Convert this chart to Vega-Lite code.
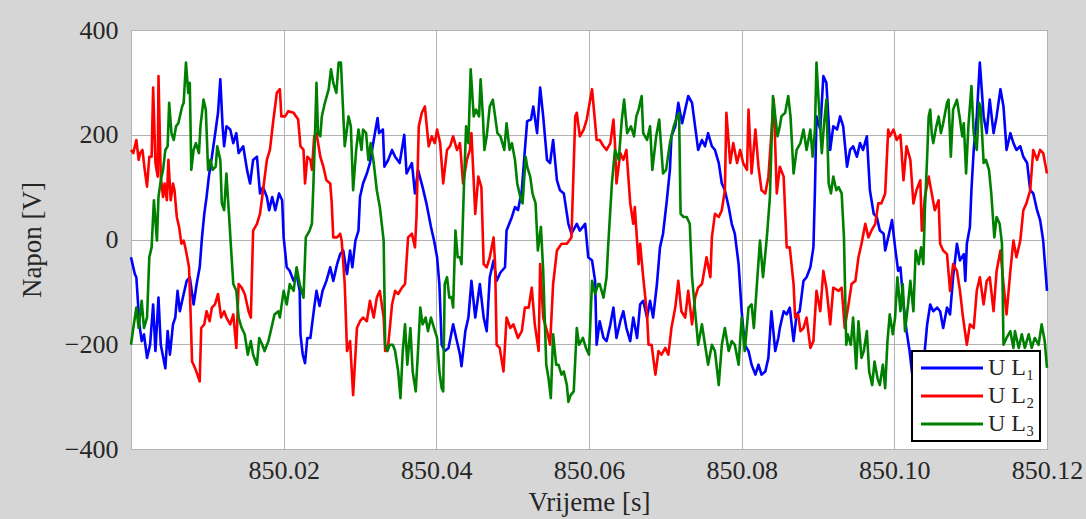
{
  "$schema": "https://vega.github.io/schema/vega-lite/v6.json",
  "autosize": {"type": "none"},
  "padding": {"left": 131, "top": 30, "right": 39, "bottom": 70},
  "width": 916,
  "height": 419,
  "background": "#d6d6d6",
  "config": {
    "font": "Liberation Serif",
    "view": {"fill": "white", "stroke": "#a6a6a6", "strokeWidth": 1},
    "axis": {
      "ticks": false,
      "domain": false,
      "grid": true,
      "gridColor": "#b3b3b3",
      "gridWidth": 1,
      "labelFontSize": 26,
      "labelColor": "#262626",
      "titleFontSize": 27,
      "titleFontWeight": "normal",
      "titleColor": "#262626"
    },
    "legend": {"strokeColor": "black", "strokeWidth": 2}
  },
  "datasets": {
    "l1": [
      {"t":850,"v":-34},{"t":850.0005,"v":-66},{"t":850.0007,"v":-72},{"t":850.0011,"v":-162},{"t":850.0014,"v":-194},{"t":850.0017,"v":-181},{"t":850.0021,"v":-226},{"t":850.0025,"v":-201},{"t":850.0029,"v":-124},{"t":850.0032,"v":-213},{"t":850.0036,"v":-111},{"t":850.0039,"v":-201},{"t":850.0045,"v":-246},{"t":850.0048,"v":-175},{"t":850.0051,"v":-220},{"t":850.0055,"v":-162},{"t":850.0058,"v":-149},{"t":850.0061,"v":-98},{"t":850.0064,"v":-137},{"t":850.0069,"v":-104},{"t":850.0073,"v":-79},{"t":850.0077,"v":-72},{"t":850.0082,"v":-124},{"t":850.0086,"v":-85},{"t":850.009,"v":-53},{"t":850.0093,"v":4},{"t":850.0096,"v":49},{"t":850.0099,"v":81},{"t":850.0102,"v":120},{"t":850.0106,"v":158},{"t":850.0111,"v":210},{"t":850.0114,"v":242},{"t":850.0117,"v":306},{"t":850.012,"v":216},{"t":850.0122,"v":178},{"t":850.0125,"v":216},{"t":850.013,"v":210},{"t":850.0134,"v":184},{"t":850.0138,"v":203},{"t":850.0141,"v":165},{"t":850.0147,"v":178},{"t":850.0152,"v":133},{"t":850.0156,"v":107},{"t":850.016,"v":152},{"t":850.0165,"v":158},{"t":850.0169,"v":88},{"t":850.0173,"v":100},{"t":850.0178,"v":81},{"t":850.0181,"v":56},{"t":850.0185,"v":81},{"t":850.0189,"v":56},{"t":850.0194,"v":88},{"t":850.0198,"v":75},
      {"t":850.02,"v":4},{"t":850.0204,"v":-53},{"t":850.0208,"v":-60},{"t":850.0213,"v":-79},{"t":850.0217,"v":-67},{"t":850.0221,"v":-98},{"t":850.0222,"v":-181},{"t":850.0225,"v":-220},{"t":850.0228,"v":-236},{"t":850.0231,"v":-188},{"t":850.0235,"v":-188},{"t":850.024,"v":-130},{"t":850.0243,"v":-98},{"t":850.0247,"v":-127},{"t":850.0251,"v":-98},{"t":850.0256,"v":-79},{"t":850.0261,"v":-53},{"t":850.0265,"v":-79},{"t":850.027,"v":-47},{"t":850.0274,"v":-28},{"t":850.0278,"v":-21},{"t":850.0283,"v":-66},{"t":850.0287,"v":-21},{"t":850.029,"v":-53},{"t":850.0294,"v":-2},{"t":850.0298,"v":17},{"t":850.03,"v":81},{"t":850.0304,"v":107},{"t":850.0309,"v":126},{"t":850.0313,"v":146},{"t":850.0318,"v":190},{"t":850.0323,"v":232},{"t":850.0325,"v":203},{"t":850.033,"v":210},{"t":850.0332,"v":139},{"t":850.0337,"v":152},{"t":850.0342,"v":171},{"t":850.0346,"v":158},{"t":850.0352,"v":146},{"t":850.0358,"v":200},{"t":850.0361,"v":126},{"t":850.0368,"v":146},{"t":850.0372,"v":88},{"t":850.0376,"v":133},{"t":850.0382,"v":100},{"t":850.0387,"v":69},{"t":850.0393,"v":24},{"t":850.0397,"v":-2},
      {"t":850.0401,"v":-34},{"t":850.0404,"v":-85},{"t":850.0407,"v":-201},{"t":850.0411,"v":-213},{"t":850.0416,"v":-207},{"t":850.0422,"v":-162},{"t":850.0426,"v":-188},{"t":850.0431,"v":-220},{"t":850.0433,"v":-242},{"t":850.0438,"v":-175},{"t":850.0442,"v":-149},{"t":850.0446,"v":-79},{"t":850.0451,"v":-149},{"t":850.0457,"v":-85},{"t":850.0462,"v":-149},{"t":850.0466,"v":-175},{"t":850.047,"v":-72},{"t":850.0475,"v":-40},{"t":850.0479,"v":-79},{"t":850.0484,"v":-63},{"t":850.049,"v":-53},{"t":850.0492,"v":17},{"t":850.0499,"v":43},{"t":850.0503,"v":62},{"t":850.0507,"v":56},{"t":850.0512,"v":94},{"t":850.0516,"v":171},{"t":850.0519,"v":226},{"t":850.0524,"v":229},{"t":850.0527,"v":254},{"t":850.0532,"v":203},{"t":850.0536,"v":290},{"t":850.054,"v":235},{"t":850.0545,"v":152},{"t":850.0549,"v":146},{"t":850.0553,"v":190},{"t":850.0558,"v":113},{"t":850.0562,"v":94},{"t":850.0567,"v":88},{"t":850.0573,"v":30},{"t":850.0577,"v":11},{"t":850.0584,"v":30},{"t":850.0588,"v":17},{"t":850.0595,"v":30},{"t":850.0599,"v":-34},
      {"t":850.0604,"v":-40},{"t":850.0608,"v":-79},{"t":850.061,"v":-201},{"t":850.0614,"v":-156},{"t":850.0619,"v":-188},{"t":850.0623,"v":-194},{"t":850.0628,"v":-162},{"t":850.0632,"v":-130},{"t":850.0636,"v":-188},{"t":850.0641,"v":-156},{"t":850.0645,"v":-137},{"t":850.0649,"v":-169},{"t":850.0654,"v":-194},{"t":850.0658,"v":-149},{"t":850.0663,"v":-188},{"t":850.0667,"v":-124},{"t":850.0671,"v":-117},{"t":850.0676,"v":-149},{"t":850.068,"v":-117},{"t":850.0684,"v":-149},{"t":850.0689,"v":-85},{"t":850.0693,"v":-15},{"t":850.0697,"v":11},{"t":850.0702,"v":75},{"t":850.0706,"v":133},{"t":850.0708,"v":197},{"t":850.0713,"v":216},{"t":850.0717,"v":261},{"t":850.0722,"v":222},{"t":850.0726,"v":248},{"t":850.073,"v":274},{"t":850.0735,"v":261},{"t":850.0739,"v":216},{"t":850.0743,"v":171},{"t":850.0748,"v":190},{"t":850.0752,"v":178},{"t":850.0756,"v":203},{"t":850.0761,"v":178},{"t":850.0765,"v":171},{"t":850.077,"v":146},{"t":850.0774,"v":107},{"t":850.0778,"v":94},{"t":850.0783,"v":62},{"t":850.0787,"v":30},{"t":850.0791,"v":11},{"t":850.0796,"v":-47},
      {"t":850.08,"v":-137},{"t":850.0804,"v":-201},{"t":850.0809,"v":-213},{"t":850.0813,"v":-239},{"t":850.0818,"v":-258},{"t":850.0822,"v":-239},{"t":850.0826,"v":-258},{"t":850.0831,"v":-252},{"t":850.0835,"v":-226},{"t":850.0839,"v":-137},{"t":850.0844,"v":-213},{"t":850.0848,"v":-188},{"t":850.085,"v":-169},{"t":850.0855,"v":-137},{"t":850.0859,"v":-143},{"t":850.0863,"v":-130},{"t":850.0868,"v":-194},{"t":850.0872,"v":-143},{"t":850.0876,"v":-137},{"t":850.0881,"v":-79},{"t":850.0885,"v":-72},{"t":850.089,"v":-53},{"t":850.0894,"v":-15},{"t":850.0896,"v":94},{"t":850.0898,"v":235},{"t":850.0903,"v":210},{"t":850.0907,"v":312},{"t":850.0911,"v":299},{"t":850.0916,"v":171},{"t":850.092,"v":216},{"t":850.0925,"v":210},{"t":850.0929,"v":235},{"t":850.0933,"v":216},{"t":850.0938,"v":139},{"t":850.0942,"v":171},{"t":850.0946,"v":178},{"t":850.0951,"v":158},{"t":850.0955,"v":184},{"t":850.0959,"v":171},{"t":850.0964,"v":197},{"t":850.0968,"v":94},{"t":850.0973,"v":49},{"t":850.0977,"v":43},{"t":850.0981,"v":17},{"t":850.0986,"v":11},{"t":850.0988,"v":-21},{"t":850.0992,"v":4},{"t":850.0997,"v":37},
      {"t":850.1001,"v":-15},{"t":850.1005,"v":-60},{"t":850.1008,"v":-53},{"t":850.1012,"v":-124},{"t":850.1016,"v":-175},{"t":850.102,"v":-213},{"t":850.1024,"v":-265},{"t":850.1032,"v":-270},{"t":850.104,"v":-210},{"t":850.1043,"v":-162},{"t":850.1047,"v":-124},{"t":850.1051,"v":-137},{"t":850.1056,"v":-130},{"t":850.106,"v":-137},{"t":850.1064,"v":-169},{"t":850.1069,"v":-130},{"t":850.1073,"v":-143},{"t":850.1077,"v":-72},{"t":850.1082,"v":-8},{"t":850.1086,"v":-40},{"t":850.1091,"v":-28},{"t":850.1093,"v":-79},{"t":850.1095,"v":-8},{"t":850.1099,"v":24},{"t":850.1101,"v":94},{"t":850.1104,"v":171},{"t":850.1108,"v":235},{"t":850.1112,"v":338},{"t":850.1117,"v":235},{"t":850.1121,"v":203},{"t":850.1125,"v":267},{"t":850.113,"v":203},{"t":850.1134,"v":235},{"t":850.1139,"v":287},{"t":850.1143,"v":254},{"t":850.1147,"v":171},{"t":850.1152,"v":203},{"t":850.1156,"v":184},{"t":850.116,"v":171},{"t":850.1165,"v":178},{"t":850.1169,"v":158},{"t":850.1174,"v":146},{"t":850.1178,"v":94},{"t":850.1182,"v":88},{"t":850.1187,"v":56},{"t":850.1191,"v":37},{"t":850.1195,"v":-2},{"t":850.12,"v":-98}
    ],
    "l2": [
      {"t":850,"v":171},{"t":850.0003,"v":165},{"t":850.0007,"v":190},{"t":850.001,"v":152},{"t":850.0012,"v":165},{"t":850.0015,"v":171},{"t":850.0018,"v":133},{"t":850.0021,"v":101},{"t":850.0024,"v":158},{"t":850.0027,"v":158},{"t":850.0029,"v":290},{"t":850.0032,"v":146},{"t":850.0035,"v":120},{"t":850.0036,"v":312},{"t":850.0039,"v":120},{"t":850.0042,"v":81},{"t":850.0044,"v":107},{"t":850.0047,"v":75},{"t":850.0049,"v":152},{"t":850.0052,"v":75},{"t":850.0055,"v":107},{"t":850.0057,"v":94},{"t":850.006,"v":43},{"t":850.0063,"v":24},{"t":850.0066,"v":-8},{"t":850.0069,"v":-2},{"t":850.0072,"v":-21},{"t":850.0076,"v":-53},{"t":850.0078,"v":-137},{"t":850.008,"v":-233},{"t":850.0084,"v":-246},{"t":850.0087,"v":-258},{"t":850.009,"v":-271},{"t":850.0092,"v":-169},{"t":850.0096,"v":-162},{"t":850.0099,"v":-137},{"t":850.0103,"v":-156},{"t":850.0106,"v":-130},{"t":850.011,"v":-124},{"t":850.0114,"v":-104},{"t":850.0118,"v":-149},{"t":850.0122,"v":-137},{"t":850.0125,"v":-149},{"t":850.013,"v":-162},{"t":850.0134,"v":-143},{"t":850.0138,"v":-207},{"t":850.0141,"v":-85},{"t":850.0145,"v":-92},{"t":850.0149,"v":-104},{"t":850.0154,"v":-137},{"t":850.0157,"v":-149},{"t":850.016,"v":17},{"t":850.0165,"v":30},{"t":850.0169,"v":49},{"t":850.0173,"v":94},{"t":850.0178,"v":152},{"t":850.0182,"v":171},{"t":850.0186,"v":222},{"t":850.0191,"v":280},{"t":850.0195,"v":287},{"t":850.0197,"v":235},
      {"t":850.0202,"v":235},{"t":850.0206,"v":245},{"t":850.0213,"v":242},{"t":850.0219,"v":229},{"t":850.0222,"v":178},{"t":850.0226,"v":171},{"t":850.0228,"v":107},{"t":850.0231,"v":158},{"t":850.0235,"v":152},{"t":850.0237,"v":133},{"t":850.024,"v":197},{"t":850.0243,"v":203},{"t":850.0248,"v":158},{"t":850.0252,"v":139},{"t":850.0256,"v":113},{"t":850.0261,"v":107},{"t":850.0263,"v":69},{"t":850.0265,"v":4},{"t":850.027,"v":4},{"t":850.0274,"v":11},{"t":850.0276,"v":-2},{"t":850.028,"v":-85},{"t":850.0283,"v":-213},{"t":850.0287,"v":-194},{"t":850.0291,"v":-297},{"t":850.0296,"v":-169},{"t":850.03,"v":-156},{"t":850.0304,"v":-149},{"t":850.0309,"v":-156},{"t":850.0313,"v":-117},{"t":850.0318,"v":-149},{"t":850.0322,"v":-111},{"t":850.0326,"v":-98},{"t":850.0331,"v":-149},{"t":850.0333,"v":-213},{"t":850.0337,"v":-201},{"t":850.0342,"v":-124},{"t":850.0346,"v":-98},{"t":850.035,"v":-104},{"t":850.0355,"v":-92},{"t":850.0359,"v":-85},{"t":850.0363,"v":4},{"t":850.0368,"v":11},{"t":850.0372,"v":-15},{"t":850.0374,"v":43},{"t":850.0377,"v":216},{"t":850.0381,"v":242},{"t":850.0385,"v":254},{"t":850.039,"v":178},{"t":850.0394,"v":197},{"t":850.0398,"v":184},
      {"t":850.0401,"v":210},{"t":850.0405,"v":184},{"t":850.0409,"v":107},{"t":850.0414,"v":171},{"t":850.0418,"v":178},{"t":850.0422,"v":197},{"t":850.0427,"v":171},{"t":850.0431,"v":184},{"t":850.0435,"v":107},{"t":850.044,"v":152},{"t":850.0444,"v":171},{"t":850.0446,"v":203},{"t":850.0451,"v":49},{"t":850.0455,"v":120},{"t":850.0459,"v":100},{"t":850.0462,"v":-47},{"t":850.0466,"v":-53},{"t":850.047,"v":-34},{"t":850.0475,"v":4},{"t":850.0477,"v":-47},{"t":850.0479,"v":-201},{"t":850.0483,"v":-207},{"t":850.0488,"v":-252},{"t":850.0492,"v":-149},{"t":850.0497,"v":-169},{"t":850.0501,"v":-162},{"t":850.0507,"v":-188},{"t":850.0512,"v":-175},{"t":850.0516,"v":-130},{"t":850.0521,"v":-130},{"t":850.0525,"v":-92},{"t":850.0529,"v":-162},{"t":850.0534,"v":-213},{"t":850.0536,"v":-47},{"t":850.054,"v":-149},{"t":850.0545,"v":-175},{"t":850.0549,"v":-201},{"t":850.0553,"v":-85},{"t":850.0558,"v":-21},{"t":850.0564,"v":-8},{"t":850.0571,"v":-8},{"t":850.0577,"v":4},{"t":850.0582,"v":235},{"t":850.0584,"v":242},{"t":850.0588,"v":197},{"t":850.0593,"v":210},{"t":850.0597,"v":229},
      {"t":850.0604,"v":287},{"t":850.061,"v":190},{"t":850.0614,"v":190},{"t":850.0619,"v":178},{"t":850.0623,"v":171},{"t":850.0628,"v":184},{"t":850.0632,"v":229},{"t":850.0634,"v":184},{"t":850.0636,"v":107},{"t":850.0641,"v":165},{"t":850.0645,"v":152},{"t":850.0649,"v":171},{"t":850.0654,"v":69},{"t":850.0658,"v":30},{"t":850.066,"v":62},{"t":850.0665,"v":-47},{"t":850.0667,"v":-8},{"t":850.0671,"v":-72},{"t":850.0676,"v":-143},{"t":850.0678,"v":-201},{"t":850.0682,"v":-201},{"t":850.0687,"v":-258},{"t":850.0691,"v":-213},{"t":850.0695,"v":-220},{"t":850.07,"v":-207},{"t":850.0704,"v":-220},{"t":850.0708,"v":-169},{"t":850.0713,"v":-130},{"t":850.0717,"v":-79},{"t":850.0721,"v":-137},{"t":850.0726,"v":-149},{"t":850.073,"v":-98},{"t":850.0735,"v":-162},{"t":850.0739,"v":-111},{"t":850.0743,"v":-92},{"t":850.0748,"v":-85},{"t":850.0754,"v":-34},{"t":850.0759,"v":-72},{"t":850.0761,"v":4},{"t":850.0765,"v":49},{"t":850.077,"v":43},{"t":850.0774,"v":56},{"t":850.0778,"v":94},{"t":850.078,"v":242},{"t":850.0785,"v":146},{"t":850.0789,"v":184},{"t":850.0794,"v":146},{"t":850.0798,"v":171},
      {"t":850.0802,"v":146},{"t":850.0807,"v":133},{"t":850.0809,"v":248},{"t":850.0813,"v":126},{"t":850.0818,"v":210},{"t":850.0822,"v":139},{"t":850.0826,"v":94},{"t":850.0831,"v":88},{"t":850.0835,"v":120},{"t":850.0842,"v":267},{"t":850.0846,"v":88},{"t":850.085,"v":139},{"t":850.0855,"v":120},{"t":850.0859,"v":-15},{"t":850.0863,"v":-15},{"t":850.0868,"v":-85},{"t":850.087,"v":-149},{"t":850.0874,"v":-143},{"t":850.0877,"v":-175},{"t":850.0881,"v":-169},{"t":850.0885,"v":-149},{"t":850.089,"v":-207},{"t":850.0894,"v":-194},{"t":850.0898,"v":-98},{"t":850.0903,"v":-137},{"t":850.0907,"v":-60},{"t":850.0911,"v":-92},{"t":850.0916,"v":-162},{"t":850.092,"v":-92},{"t":850.0927,"v":-98},{"t":850.0931,"v":-92},{"t":850.0935,"v":-169},{"t":850.094,"v":-124},{"t":850.0944,"v":-85},{"t":850.0949,"v":-79},{"t":850.0953,"v":-34},{"t":850.0957,"v":-8},{"t":850.0962,"v":30},{"t":850.0966,"v":4},{"t":850.097,"v":17},{"t":850.0975,"v":30},{"t":850.0979,"v":69},{"t":850.0983,"v":69},{"t":850.0988,"v":88},{"t":850.0992,"v":210},{"t":850.0994,"v":197},{"t":850.0999,"v":210},
      {"t":850.1003,"v":190},{"t":850.1008,"v":200},{"t":850.1012,"v":113},{"t":850.1016,"v":178},{"t":850.1021,"v":152},{"t":850.1025,"v":69},{"t":850.1029,"v":94},{"t":850.1034,"v":113},{"t":850.1036,"v":17},{"t":850.104,"v":81},{"t":850.1045,"v":120},{"t":850.1049,"v":88},{"t":850.1053,"v":56},{"t":850.1058,"v":75},{"t":850.106,"v":-8},{"t":850.1064,"v":-21},{"t":850.1069,"v":-28},{"t":850.1073,"v":-98},{"t":850.1077,"v":-47},{"t":850.1082,"v":-60},{"t":850.1086,"v":-98},{"t":850.109,"v":-149},{"t":850.1095,"v":-201},{"t":850.1099,"v":-162},{"t":850.1104,"v":-169},{"t":850.1108,"v":-98},{"t":850.1112,"v":-72},{"t":850.1117,"v":-124},{"t":850.1121,"v":-79},{"t":850.1125,"v":-72},{"t":850.113,"v":-137},{"t":850.1134,"v":-60},{"t":850.1139,"v":-21},{"t":850.1143,"v":-85},{"t":850.1147,"v":-143},{"t":850.1152,"v":-60},{"t":850.1156,"v":-2},{"t":850.116,"v":-34},{"t":850.1165,"v":-2},{"t":850.1169,"v":56},{"t":850.1173,"v":69},{"t":850.1178,"v":94},{"t":850.1182,"v":171},{"t":850.1187,"v":152},{"t":850.1191,"v":171},{"t":850.1195,"v":165},{"t":850.12,"v":126}
    ],
    "l3": [
      {"t":850,"v":-201},{"t":850.0003,"v":-169},{"t":850.0007,"v":-130},{"t":850.001,"v":-169},{"t":850.0014,"v":-117},{"t":850.0017,"v":-169},{"t":850.0021,"v":-149},{"t":850.0024,"v":-34},{"t":850.0027,"v":-15},{"t":850.003,"v":75},{"t":850.0034,"v":-2},{"t":850.0036,"v":81},{"t":850.0039,"v":113},{"t":850.0042,"v":133},{"t":850.0045,"v":171},{"t":850.0048,"v":178},{"t":850.005,"v":261},{"t":850.0053,"v":203},{"t":850.0056,"v":190},{"t":850.0059,"v":216},{"t":850.0062,"v":222},{"t":850.0064,"v":235},{"t":850.0067,"v":254},{"t":850.0069,"v":261},{"t":850.0072,"v":338},{"t":850.0075,"v":280},{"t":850.0077,"v":299},{"t":850.0079,"v":133},{"t":850.0082,"v":171},{"t":850.0085,"v":184},{"t":850.0089,"v":165},{"t":850.0091,"v":216},{"t":850.0095,"v":267},{"t":850.0098,"v":248},{"t":850.0101,"v":133},{"t":850.0104,"v":152},{"t":850.0107,"v":133},{"t":850.0111,"v":139},{"t":850.0113,"v":178},{"t":850.0117,"v":152},{"t":850.0119,"v":69},{"t":850.0122,"v":56},{"t":850.0125,"v":126},{"t":850.0128,"v":56},{"t":850.0131,"v":-15},{"t":850.0134,"v":-85},{"t":850.0138,"v":-98},{"t":850.0141,"v":-149},{"t":850.0145,"v":-169},{"t":850.0149,"v":-181},{"t":850.0153,"v":-220},{"t":850.0157,"v":-194},{"t":850.016,"v":-220},{"t":850.0165,"v":-239},{"t":850.0168,"v":-188},{"t":850.0172,"v":-201},{"t":850.0175,"v":-213},{"t":850.018,"v":-194},{"t":850.0184,"v":-169},{"t":850.0188,"v":-143},{"t":850.0193,"v":-137},{"t":850.0195,"v":-149},
      {"t":850.02,"v":-98},{"t":850.0204,"v":-124},{"t":850.0208,"v":-85},{"t":850.0213,"v":-98},{"t":850.0217,"v":-53},{"t":850.0221,"v":-85},{"t":850.0226,"v":-111},{"t":850.0229,"v":4},{"t":850.0234,"v":17},{"t":850.0237,"v":30},{"t":850.0239,"v":107},{"t":850.0241,"v":197},{"t":850.0243,"v":299},{"t":850.0245,"v":203},{"t":850.0248,"v":197},{"t":850.025,"v":235},{"t":850.0254,"v":261},{"t":850.0259,"v":287},{"t":850.0262,"v":325},{"t":850.0265,"v":299},{"t":850.0269,"v":280},{"t":850.0272,"v":338},{"t":850.0275,"v":338},{"t":850.0277,"v":274},{"t":850.028,"v":178},{"t":850.0285,"v":235},{"t":850.0288,"v":216},{"t":850.0291,"v":94},{"t":850.0295,"v":171},{"t":850.0298,"v":210},{"t":850.0302,"v":171},{"t":850.0304,"v":210},{"t":850.0308,"v":203},{"t":850.0311,"v":152},{"t":850.0314,"v":184},{"t":850.0318,"v":146},{"t":850.0322,"v":94},{"t":850.0326,"v":62},{"t":850.0331,"v":-2},{"t":850.0333,"v":-201},{"t":850.0336,"v":-213},{"t":850.0339,"v":-201},{"t":850.0343,"v":-201},{"t":850.0346,"v":-213},{"t":850.035,"v":-252},{"t":850.0353,"v":-303},{"t":850.0356,"v":-213},{"t":850.0359,"v":-162},{"t":850.0362,"v":-239},{"t":850.0366,"v":-169},{"t":850.0369,"v":-252},{"t":850.0373,"v":-290},{"t":850.0376,"v":-213},{"t":850.0379,"v":-130},{"t":850.0382,"v":-162},{"t":850.0386,"v":-149},{"t":850.0389,"v":-175},{"t":850.0393,"v":-149},{"t":850.0397,"v":-169},
      {"t":850.0401,"v":-188},{"t":850.0404,"v":-252},{"t":850.0407,"v":-284},{"t":850.0409,"v":-290},{"t":850.0411,"v":-85},{"t":850.0414,"v":-72},{"t":850.0417,"v":-111},{"t":850.042,"v":-110},{"t":850.0422,"v":-130},{"t":850.0425,"v":17},{"t":850.0428,"v":-34},{"t":850.0431,"v":-34},{"t":850.0433,"v":-47},{"t":850.0436,"v":94},{"t":850.0439,"v":216},{"t":850.0442,"v":184},{"t":850.0445,"v":325},{"t":850.0449,"v":235},{"t":850.0452,"v":248},{"t":850.0456,"v":235},{"t":850.0458,"v":306},{"t":850.0461,"v":235},{"t":850.0463,"v":171},{"t":850.0466,"v":197},{"t":850.047,"v":254},{"t":850.0474,"v":267},{"t":850.0477,"v":235},{"t":850.048,"v":203},{"t":850.0484,"v":197},{"t":850.0489,"v":171},{"t":850.0492,"v":222},{"t":850.0496,"v":171},{"t":850.0499,"v":184},{"t":850.0503,"v":152},{"t":850.0506,"v":107},{"t":850.051,"v":81},{"t":850.0513,"v":69},{"t":850.0517,"v":158},{"t":850.0519,"v":139},{"t":850.0523,"v":120},{"t":850.0526,"v":88},{"t":850.053,"v":69},{"t":850.0533,"v":-21},{"t":850.0537,"v":24},{"t":850.054,"v":-60},{"t":850.0544,"v":-239},{"t":850.0547,"v":-265},{"t":850.055,"v":-303},{"t":850.0553,"v":-181},{"t":850.0557,"v":-239},{"t":850.056,"v":-239},{"t":850.0564,"v":-258},{"t":850.0567,"v":-252},{"t":850.0571,"v":-278},{"t":850.0573,"v":-310},{"t":850.0576,"v":-297},{"t":850.058,"v":-290},{"t":850.0584,"v":-169},{"t":850.0587,"v":-201},{"t":850.0592,"v":-188},{"t":850.0596,"v":-207},
      {"t":850.06,"v":-220},{"t":850.0604,"v":-79},{"t":850.0608,"v":-104},{"t":850.0612,"v":-85},{"t":850.0614,"v":-85},{"t":850.0619,"v":-111},{"t":850.0623,"v":-72},{"t":850.0625,"v":-15},{"t":850.063,"v":107},{"t":850.0634,"v":171},{"t":850.0639,"v":152},{"t":850.0643,"v":229},{"t":850.0646,"v":267},{"t":850.065,"v":203},{"t":850.0655,"v":216},{"t":850.0659,"v":197},{"t":850.0662,"v":235},{"t":850.0665,"v":248},{"t":850.0669,"v":274},{"t":850.0671,"v":203},{"t":850.0676,"v":190},{"t":850.068,"v":216},{"t":850.0683,"v":133},{"t":850.0688,"v":197},{"t":850.0692,"v":229},{"t":850.0697,"v":126},{"t":850.0701,"v":133},{"t":850.0706,"v":184},{"t":850.0711,"v":216},{"t":850.0714,"v":229},{"t":850.0718,"v":242},{"t":850.072,"v":49},{"t":850.0724,"v":43},{"t":850.0728,"v":43},{"t":850.0732,"v":30},{"t":850.0735,"v":-72},{"t":850.0739,"v":-137},{"t":850.0743,"v":-201},{"t":850.0748,"v":-162},{"t":850.0752,"v":-201},{"t":850.0756,"v":-239},{"t":850.0761,"v":-201},{"t":850.0765,"v":-213},{"t":850.077,"v":-278},{"t":850.0774,"v":-201},{"t":850.0778,"v":-169},{"t":850.0783,"v":-213},{"t":850.0787,"v":-194},{"t":850.0791,"v":-201},{"t":850.0796,"v":-239},
      {"t":850.08,"v":-149},{"t":850.0804,"v":-213},{"t":850.0809,"v":-130},{"t":850.0813,"v":-124},{"t":850.0816,"v":-169},{"t":850.082,"v":-85},{"t":850.0824,"v":-2},{"t":850.0828,"v":-72},{"t":850.0833,"v":4},{"t":850.0837,"v":81},{"t":850.0841,"v":274},{"t":850.0844,"v":235},{"t":850.0847,"v":197},{"t":850.085,"v":216},{"t":850.0852,"v":235},{"t":850.0857,"v":242},{"t":850.0861,"v":274},{"t":850.0864,"v":235},{"t":850.0868,"v":126},{"t":850.0872,"v":171},{"t":850.0877,"v":184},{"t":850.0881,"v":210},{"t":850.0885,"v":171},{"t":850.089,"v":210},{"t":850.0893,"v":158},{"t":850.0896,"v":210},{"t":850.0898,"v":338},{"t":850.0902,"v":235},{"t":850.0905,"v":165},{"t":850.0908,"v":222},{"t":850.0911,"v":267},{"t":850.0914,"v":107},{"t":850.0917,"v":88},{"t":850.092,"v":120},{"t":850.0924,"v":94},{"t":850.0927,"v":100},{"t":850.0931,"v":88},{"t":850.0934,"v":4},{"t":850.0937,"v":-201},{"t":850.0939,"v":-181},{"t":850.0943,"v":-201},{"t":850.0946,"v":-149},{"t":850.095,"v":-246},{"t":850.0953,"v":-156},{"t":850.0957,"v":-226},{"t":850.096,"v":-213},{"t":850.0964,"v":-175},{"t":850.0967,"v":-252},{"t":850.0971,"v":-278},{"t":850.0974,"v":-233},{"t":850.0978,"v":-265},{"t":850.0981,"v":-278},{"t":850.0985,"v":-239},{"t":850.0988,"v":-284},{"t":850.0991,"v":-194},{"t":850.0994,"v":-143},{"t":850.0998,"v":-181},
      {"t":850.1001,"v":-149},{"t":850.1004,"v":-72},{"t":850.1008,"v":-137},{"t":850.1011,"v":-85},{"t":850.1014,"v":-175},{"t":850.1018,"v":-124},{"t":850.1021,"v":-79},{"t":850.1025,"v":-137},{"t":850.1028,"v":-21},{"t":850.1032,"v":-47},{"t":850.1035,"v":-15},{"t":850.1038,"v":-47},{"t":850.104,"v":56},{"t":850.1043,"v":158},{"t":850.1045,"v":235},{"t":850.1047,"v":248},{"t":850.1049,"v":203},{"t":850.1051,"v":184},{"t":850.1055,"v":216},{"t":850.1058,"v":235},{"t":850.1061,"v":203},{"t":850.1064,"v":222},{"t":850.1069,"v":261},{"t":850.1071,"v":267},{"t":850.1074,"v":158},{"t":850.1077,"v":248},{"t":850.1082,"v":267},{"t":850.1086,"v":229},{"t":850.1089,"v":197},{"t":850.1091,"v":222},{"t":850.1094,"v":126},{"t":850.1097,"v":216},{"t":850.1101,"v":293},{"t":850.1104,"v":203},{"t":850.1108,"v":171},{"t":850.1111,"v":261},{"t":850.1113,"v":254},{"t":850.1117,"v":146},{"t":850.112,"v":152},{"t":850.1124,"v":133},{"t":850.1127,"v":88},{"t":850.1131,"v":4},{"t":850.1134,"v":43},{"t":850.1138,"v":30},{"t":850.1141,"v":-8},{"t":850.1143,"v":-201},{"t":850.1147,"v":-188},{"t":850.1152,"v":-175},{"t":850.1156,"v":-207},{"t":850.1158,"v":-175},{"t":850.1163,"v":-207},{"t":850.1167,"v":-181},{"t":850.1171,"v":-207},{"t":850.1176,"v":-181},{"t":850.118,"v":-207},{"t":850.1184,"v":-188},{"t":850.1189,"v":-201},{"t":850.1193,"v":-162},{"t":850.1197,"v":-194},{"t":850.12,"v":-245}
    ]
  },
  "encoding": {
    "x": {
      "field": "t",
      "type": "quantitative",
      "scale": {"domain": [850, 850.12], "nice": false, "zero": false},
      "axis": {
        "title": "Vrijeme [s]",
        "values": [850, 850.02, 850.04, 850.06, 850.08, 850.1, 850.12],
        "labelExpr": "datum.value < 850.01 ? '' : format(datum.value, '.2f')",
        "labelPadding": 8,
        "labelFlush": false,
        "labelOverlap": false,
        "titlePadding": 6
      }
    },
    "y": {
      "field": "v",
      "type": "quantitative",
      "scale": {"domain": [-400, 400], "nice": false},
      "axis": {
        "title": "Napon [V]",
        "values": [-400, -200, 0, 200, 400],
        "labelPadding": 13,
        "labelFlush": false,
        "labelOverlap": false,
        "titlePadding": 18
      }
    }
  },
  "layer": [
    {
      "data": {"name": "l1"},
      "mark": {"type": "line", "strokeWidth": 2.6, "strokeJoin": "round"},
      "encoding": {
        "color": {
          "datum": "U L₁",
          "type": "nominal",
          "scale": {"domain": ["U L₁", "U L₂", "U L₃"], "range": ["#0000ff", "#ff0000", "#008000"]},
          "legend": {
            "title": null,
            "orient": "none",
            "legendX": 781,
            "legendY": 321,
            "direction": "vertical",
            "fillColor": "white",
            "strokeColor": "black",
            "padding": 5,
            "rowPadding": 4,
            "symbolType": "M-1.6,0H10.8",
            "symbolSize": 100,
            "symbolStrokeWidth": 3,
            "symbolFillColor": "transparent",
            "labelFontSize": 24,
            "labelColor": "#262626",
            "labelOffset": 47
          }
        }
      }
    },
    {
      "data": {"name": "l2"},
      "mark": {"type": "line", "strokeWidth": 2.6, "strokeJoin": "round"},
      "encoding": {"color": {"datum": "U L₂", "type": "nominal"}}
    },
    {
      "data": {"name": "l3"},
      "mark": {"type": "line", "strokeWidth": 2.6, "strokeJoin": "round"},
      "encoding": {"color": {"datum": "U L₃", "type": "nominal"}}
    },
    {
      "data": {"values": [{}]},
      "mark": {"type": "rule", "color": "black", "strokeWidth": 3},
      "encoding": {"y": {"datum": 0}, "x": null}
    }
  ]
}
